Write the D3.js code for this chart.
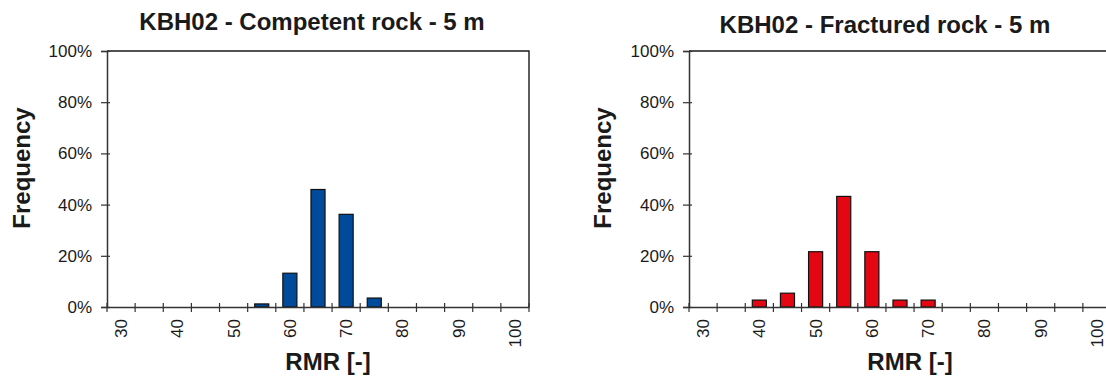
<!DOCTYPE html>
<html>
<head>
<meta charset="utf-8">
<script src="https://cdn.jsdelivr.net/npm/d3@7"></script>
<style>
  body { margin: 0; background: #fff; }
  svg text { font-family: Arial, "Liberation Sans", sans-serif; fill: #1a1a1a; }
</style>
</head>
<body>
<script>
//Width and height
var w = 1106;
var h = 381;

// RMR classes (bin centres) and labelled ticks
var categories = [30, 35, 40, 45, 50, 55, 60, 65, 70, 75, 80, 85, 90, 95, 100];
var xTickLabels = [30, 40, 50, 60, 70, 80, 90, 100];
var yTicks = [0, 20, 40, 60, 80, 100];

// frequency in % per class
var competent = [0, 0, 0, 0, 0, 1.2, 13.2, 45.9, 36.2, 3.5, 0, 0, 0, 0, 0];
var fractured = [0, 0, 2.7, 5.4, 21.6, 43.2, 21.6, 2.7, 2.7, 0, 0, 0, 0, 0, 0];

var titles = ["KBH02 - Competent rock - 5 m", "KBH02 - Fractured rock - 5 m"];
var xTitle = "RMR [-]";
var yTitle = "Frequency";

var plotTop = 51, plotBottom = 307;

var svg = d3.select("body").append("svg").attr("width", w).attr("height", h);

function drawChart(cfg, values, color, title) {
  var g = svg.append("g");

  var xScale = d3.scaleBand().domain(categories).range([cfg.left, cfg.right]);
  var yScale = d3.scaleLinear().domain([0, 100]).range([plotBottom, plotTop]);

  // plot frame (top and right edges)
  g.append("path")
    .attr("d", "M" + cfg.left + "," + plotTop + "H" + cfg.right + "V" + plotBottom)
    .attr("fill", "none")
    .attr("stroke", "#1a1a1a")
    .attr("stroke-width", 1.4);

  //Create bars
  var data = categories.map(function (c, i) {
    return { c: c, v: values[i] };
  }).filter(function (d) { return d.v > 0; });

  g.selectAll("rect")
    .data(data)
    .enter()
    .append("rect")
    .attr("x", function (d) { return xScale(d.c) + xScale.bandwidth() * 0.25; })
    .attr("y", function (d) { return yScale(d.v); })
    .attr("width", xScale.bandwidth() * 0.5)
    .attr("height", function (d) { return plotBottom - yScale(d.v); })
    .attr("fill", color)
    .attr("stroke", "#111")
    .attr("stroke-width", 1.2);

  // y axis
  var yAxis = g.append("g")
    .attr("transform", "translate(" + cfg.left + ",0)")
    .call(d3.axisLeft(yScale).tickValues(yTicks).tickSize(6).tickPadding(9)
      .tickFormat(function (d) { return d + "%"; }));
  yAxis.select(".domain").attr("stroke", "#333").attr("stroke-width", 1.5);
  yAxis.selectAll(".tick line").attr("x1", 3).attr("stroke", "#333").attr("stroke-width", 1.2);
  yAxis.selectAll(".tick text").style("font-size", "17px").attr("fill", "#1a1a1a");

  // x axis with labels on every other class
  var xAxis = g.append("g")
    .attr("transform", "translate(0," + plotBottom + ")")
    .call(d3.axisBottom(xScale).tickValues(xTickLabels).tickSize(0));
  xAxis.select(".domain").attr("stroke", "#333").attr("stroke-width", 1.5);
  xAxis.selectAll(".tick text")
    .attr("transform", "rotate(-90)")
    .attr("x", -12)
    .attr("y", 0)
    .attr("dy", "0.35em")
    .style("text-anchor", "end")
    .style("font-size", "17px")
    .attr("fill", "#1a1a1a");

  // tick marks between classes
  var bounds = categories.map(function (c) { return xScale(c); }).concat([cfg.right]);
  g.selectAll("line.xtick")
    .data(bounds)
    .enter()
    .append("line")
    .attr("class", "xtick")
    .attr("x1", function (d) { return d; })
    .attr("x2", function (d) { return d; })
    .attr("y1", plotBottom - 4)
    .attr("y2", plotBottom + 5)
    .attr("stroke", "#333")
    .attr("stroke-width", 1.2);

  // titles
  g.append("text")
    .attr("x", cfg.titleX)
    .attr("y", cfg.titleY)
    .attr("text-anchor", "middle")
    .style("font-size", "24px")
    .style("font-weight", "bold")
    .text(title);

  g.append("text")
    .attr("x", (cfg.left + cfg.right) / 2 + 10)
    .attr("y", 370)
    .attr("text-anchor", "middle")
    .style("font-size", "24px")
    .style("font-weight", "bold")
    .text(xTitle);

  g.append("text")
    .attr("transform", "translate(" + cfg.yTitleX + ",168) rotate(-90)")
    .attr("text-anchor", "middle")
    .style("font-size", "24px")
    .style("font-weight", "bold")
    .text(yTitle);
}

drawChart({ left: 107, right: 529, titleX: 312, titleY: 30, yTitleX: 29.5 },
  competent, "#004a9c", titles[0]);
drawChart({ left: 689, right: 1111, titleX: 885, titleY: 33, yTitleX: 610.5 },
  fractured, "#e30613", titles[1]);
</script>
</body>
</html>
